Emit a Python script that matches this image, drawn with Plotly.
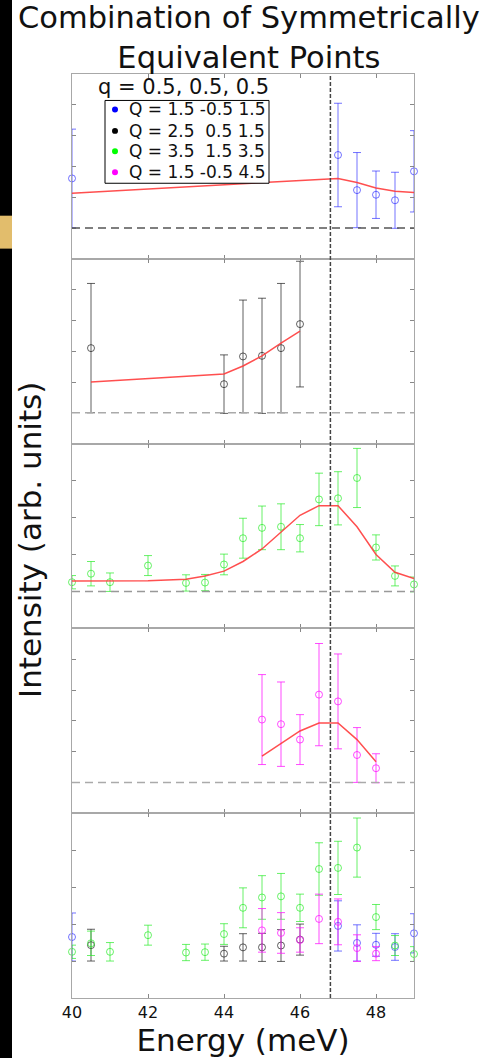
import plotly.graph_objects as go
from plotly.subplots import make_subplots

FONT = "DejaVu Sans"

# ---------------- data ----------------
# Panel 1: Q = 1.5 -0.5 1.5 (blue)
e_blue = [40, 47, 47.5, 48, 48.5, 49]
i_blue = [1.61, 2.37, 1.23, 1.08, 0.90, 1.84]
err_blue = [1.60, 1.68, 1.22, 0.77, 0.91, 1.32]
fit_blue = [1.13, 1.61, 1.48, 1.30, 1.19, 1.15]

# Panel 2: Q = 2.5 0.5 1.5 (black)
e_black = [40.5, 44, 44.5, 45, 45.5, 46]
i_black = [2.10, 0.93, 1.83, 1.85, 2.10, 2.88]
err_black = [2.10, 0.95, 1.83, 1.87, 2.10, 2.04]
fit_black = [1.00, 1.26, 1.52, 1.85, 2.26, 2.65]

# Panel 3: Q = 3.5 1.5 3.5 (green)
e_green = [40, 40.5, 41, 42, 43, 43.5, 44, 44.5, 45, 45.5, 46, 46.5, 47, 47.5, 48, 48.5, 49]
i_green = [0.25, 0.48, 0.25, 0.70, 0.23, 0.24, 0.73, 1.44, 1.72, 1.75, 1.44, 2.49, 2.52, 3.07, 1.19, 0.42, 0.19]
err_green = [0.18, 0.33, 0.25, 0.27, 0.22, 0.22, 0.28, 0.54, 0.59, 0.62, 0.37, 0.71, 0.72, 0.80, 0.34, 0.27, 0.20]
fit_green = [0.28, 0.28, 0.28, 0.29, 0.33, 0.42, 0.55, 0.81, 1.15, 1.60, 2.06, 2.32, 2.32, 1.75, 1.00, 0.52, 0.35]

# Panel 4: Q = 1.5 -0.5 4.5 (magenta)
e_mag = [45, 45.5, 46, 46.5, 47, 47.5, 48]
i_mag = [2.04, 1.89, 1.39, 2.85, 2.63, 0.89, 0.46]
err_mag = [1.46, 1.37, 0.81, 1.66, 1.54, 0.89, 0.47]
fit_mag = [0.85, 1.27, 1.67, 1.93, 1.93, 1.39, 0.67]

# Panel 5: combined (rescaled) points
comb_blue = [0.65, 0.95, 0.49, 0.44, 0.38, 0.75]
comb_blue_err = [0.65, 0.68, 0.49, 0.31, 0.36, 0.53]
comb_black = [0.43, 0.20, 0.37, 0.37, 0.42, 0.58]
comb_black_err = [0.43, 0.20, 0.37, 0.38, 0.43, 0.42]
comb_green = i_green
comb_green_err = err_green
comb_mag = [0.83, 0.76, 0.57, 1.14, 1.06, 0.35, 0.20]
comb_mag_err = [0.59, 0.55, 0.33, 0.67, 0.62, 0.36, 0.19]

legend_labels = ["Q = 1.5 -0.5 1.5", "Q = 2.5 \u00a00.5 1.5", "Q = 3.5 \u00a01.5 3.5", "Q = 1.5 -0.5 4.5"]
q_label = "q = 0.5, 0.5, 0.5"
title_text = "Combination of Symmetrically<br>Equivalent Points"
e_marker = 46.8
x_ticks = [40, 42, 44, 46, 48]

C_BLUE = "rgba(40,40,255,0.65)"
C_BLACK = "rgba(30,30,30,0.7)"
C_GREEN = "rgba(40,235,40,0.7)"
C_MAG = "rgba(255,30,255,0.8)"
C_FIT = "rgba(255,60,60,0.9)"
DOT_COLORS = ["#0000ff", "#000000", "#00ff00", "#ff00ff"]

# ---------------- figure ----------------
fig = make_subplots(rows=5, cols=1, shared_xaxes=True, vertical_spacing=0)


def pts(x, y, err, color, row):
    fig.add_trace(go.Scatter(
        x=x, y=y, mode="markers", showlegend=False, cliponaxis=False,
        marker=dict(symbol="circle-open", size=7, color=color, line=dict(width=1, color=color)),
        error_y=dict(type="data", array=err, visible=True, color=color, thickness=1, width=4),
    ), row=row, col=1)


def fit(x, y, row):
    fig.add_trace(go.Scatter(x=x, y=y, mode="lines", showlegend=False,
                             line=dict(color=C_FIT, width=1.5)), row=row, col=1)


pts(e_blue, i_blue, err_blue, C_BLUE, 1)
fit(e_blue, fit_blue, 1)
pts(e_black, i_black, err_black, C_BLACK, 2)
fit(e_black, fit_black, 2)
pts(e_green, i_green, err_green, C_GREEN, 3)
fit(e_green, fit_green, 3)
pts(e_mag, i_mag, err_mag, C_MAG, 4)
fit(e_mag, fit_mag, 4)
pts(e_blue, comb_blue, comb_blue_err, C_BLUE, 5)
pts(e_black, comb_black, comb_black_err, C_BLACK, 5)
pts(e_green, comb_green, comb_green_err, C_GREEN, 5)
pts(e_mag, comb_mag, comb_mag_err, C_MAG, 5)

yranges = [[-1, 5], [-1, 5], [-1, 4], [-1, 5], [-1, 4]]
for r in range(1, 6):
    fig.update_xaxes(row=r, col=1, range=[40, 49], tickvals=x_ticks, ticks="inside", ticklen=4,
                     tickcolor="#888", showline=True, linecolor="#a8a8a8", linewidth=1,
                     mirror="ticks", showgrid=False, zeroline=False,
                     tickfont=dict(family=FONT, size=16, color="#111"))
    fig.update_yaxes(row=r, col=1, range=yranges[r - 1], dtick=1, tick0=0, ticks="inside", ticklen=4,
                     tickcolor="#888", showline=True, linecolor="#a8a8a8", linewidth=1,
                     mirror="ticks", showgrid=False, zeroline=False, showticklabels=False)

fig.update_xaxes(row=5, col=1, title=dict(text="Energy (meV)", font=dict(family=FONT, size=31, color="#111"),
                                           standoff=2))

# zero reference lines
zero_colors = ["#555", "#aaa", "#999", "#aaa"]
for r in range(1, 5):
    fig.add_hline(y=0, row=r, col=1, line=dict(color=zero_colors[r - 1], width=1.5, dash="8px,5px"))

# vertical marker line through all panels
fig.add_shape(type="line", xref="x5", yref="paper", x0=e_marker, x1=e_marker, y0=0, y1=1,
              line=dict(color="#444", width=1.5, dash="4px,2px"), layer="above")

W, H = 488, 1058
L, R, T, B = 72, 74, 74, 58
PW, PH = W - L - R, H - T - B


def px(x):
    return (x - L) / PW


def py(y):
    return (H - B - y) / PH


# decorative edge strip from the reference
fig.add_shape(type="rect", xref="paper", yref="paper", x0=px(0), x1=px(12), y0=py(H + 5), y1=py(-5),
              fillcolor="black", line=dict(width=0), layer="above")
fig.add_shape(type="rect", xref="paper", yref="paper", x0=px(0), x1=px(12), y0=py(249), y1=py(216),
              fillcolor="#e2bd6c", line=dict(width=0), layer="above")

# manual legend box
fig.add_shape(type="rect", xref="paper", yref="paper", x0=px(105), x1=px(269), y0=py(183.5), y1=py(100.5),
              fillcolor="white", line=dict(color="black", width=1), layer="above")
rows_y = [109.5, 131, 151.5, 172.5]
for lab, col, yy in zip(legend_labels, DOT_COLORS, rows_y):
    fig.add_shape(type="circle", xref="paper", yref="paper", x0=px(112), x1=px(118),
                  y0=py(yy + 3), y1=py(yy - 3), fillcolor=col, line=dict(color=col, width=0), layer="above")
    fig.add_annotation(xref="paper", yref="paper", x=px(127), y=py(yy), text=lab, showarrow=False,
                       xanchor="left", yanchor="middle", font=dict(family=FONT, size=17, color="#111"))

fig.add_annotation(xref="paper", yref="paper", x=px(183), y=py(87), text=q_label, showarrow=False,
                   xanchor="center", yanchor="middle", font=dict(family=FONT, size=21, color="#111"))

fig.add_annotation(xref="paper", yref="paper", x=px(30), y=py(541), text="Intensity (arb. units)",
                   textangle=-90, showarrow=False, xanchor="center", yanchor="middle",
                   font=dict(family=FONT, size=31, color="#111"))

# title (two lines)
fig.add_annotation(xref="paper", yref="paper", x=px(249), y=py(37), text=title_text, showarrow=False,
                   xanchor="center", yanchor="middle", font=dict(family=FONT, size=30.5, color="#111"))

fig.update_layout(
    width=W, height=H, margin=dict(l=L, r=R, t=T, b=B),
    paper_bgcolor="white", plot_bgcolor="white", showlegend=False,
)

fig.write_html("out.html")
